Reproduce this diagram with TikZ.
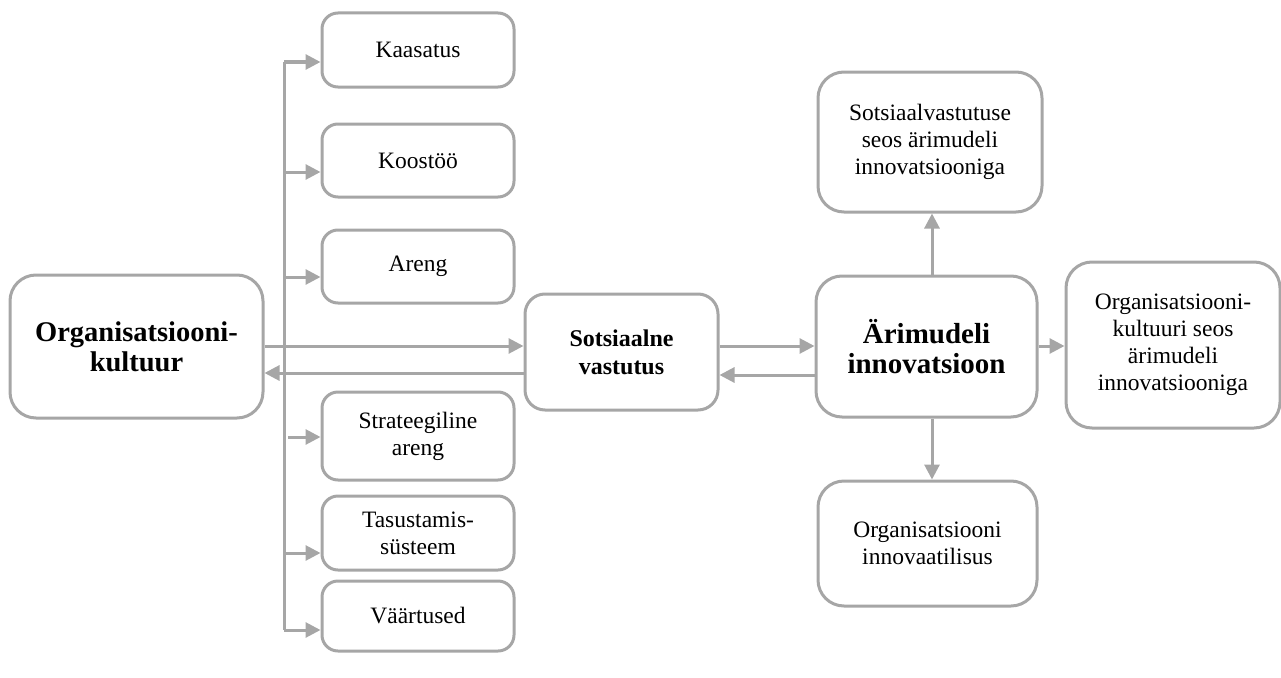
\documentclass[tikz,border=0pt]{standalone}
\usepackage{fontspec}
\setmainfont{Liberation Serif}
\usetikzlibrary{arrows.meta}
\definecolor{lg}{HTML}{A6A6A6}
\begin{document}
\begin{tikzpicture}[x=1pt,y=-1pt,
  box/.style={draw=lg,line width=3pt,rounded corners=16pt,fill=white,align=center,inner sep=2pt,font=\fontsize{23.5}{27}\selectfont},
  bigbox/.style={box,rounded corners=26pt},
  arr/.style={draw=lg,line width=3pt,-{Triangle[length=15pt,width=15pt]}},
  ln/.style={draw=lg,line width=3pt}]
\useasboundingbox (0,0) rectangle (1281,677);
% main nodes
\node[bigbox,minimum width=253pt,minimum height=143pt,font=\bfseries\fontsize{28.5}{30}\selectfont] (org) at (136.5,346.5) {Organisatsiooni-\\kultuur};
\node[box,rounded corners=20pt,minimum width=193pt,minimum height=116pt,font=\bfseries\fontsize{24}{28}\selectfont] (sots) at (621.5,352) {Sotsiaalne\\vastutus};
\node[bigbox,minimum width=221pt,minimum height=141pt,font=\bfseries\fontsize{29}{30}\selectfont] (ari) at (926.5,346.5) {Ärimudeli\\innovatsioon};
\node[bigbox,minimum width=224pt,minimum height=140pt] (sv) at (930,142) {Sotsiaalvastutuse\\seos ärimudeli\\innovatsiooniga};
\node[bigbox,minimum width=219pt,minimum height=125pt] (oi) at (927.5,543.5) {Organisatsiooni\\innovaatilisus};
\node[bigbox,minimum width=214pt,minimum height=166pt] (oks) at (1173,345) {Organisatsiooni-\\kultuuri seos\\ärimudeli\\innovatsiooniga};
% small nodes
\node[box,minimum width=192pt,minimum height=74pt] (k1) at (418,50) {Kaasatus};
\node[box,minimum width=192pt,minimum height=73pt] (k2) at (418,160.5) {Koostöö};
\node[box,minimum width=192pt,minimum height=73pt] (k3) at (418,266.5) {Areng};
\node[box,minimum width=192pt,minimum height=88pt] (k4) at (418,436) {Strateegiline\\areng};
\node[box,minimum width=192pt,minimum height=74pt] (k5) at (418,533) {Tasustamis-\\süsteem};
\node[box,minimum width=192pt,minimum height=70pt] (k6) at (418,616) {Väärtused};
% trunk
\coordinate (t1) at (284,62);
\coordinate (t2) at (284,172);
\coordinate (t3) at (284,277);
\coordinate (t4) at (288,437);
\coordinate (t5) at (284,553);
\coordinate (t6) at (284,630);
\draw[ln] (t1) -- (t6);
\draw[arr] (t1) -- (t1 -| k1.west);
\draw[arr] (t2) -- (t2 -| k2.west);
\draw[arr] (t3) -- (t3 -| k3.west);
\draw[arr] (t4) -- (t4 -| k4.west);
\draw[arr] (t5) -- (t5 -| k5.west);
\draw[arr] (t6) -- (t6 -| k6.west);
% main connectors
\coordinate (h1) at (0,346);
\coordinate (h2) at (0,373);
\coordinate (h3) at (0,375);
\coordinate (v) at (932,0);
\draw[arr] (org.east |- h1) -- (sots.west |- h1);
\draw[arr] (sots.west |- h2) -- (org.east |- h2);
\draw[arr] (sots.east |- h1) -- (ari.west |- h1);
\draw[arr] (ari.west |- h3) -- (sots.east |- h3);
\draw[arr] (ari.north -| v) -- (sv.south -| v);
\draw[arr] (ari.south -| v) -- (oi.north -| v);
\draw[arr] (ari.east |- h1) -- (oks.west |- h1);
\end{tikzpicture}
\end{document}
